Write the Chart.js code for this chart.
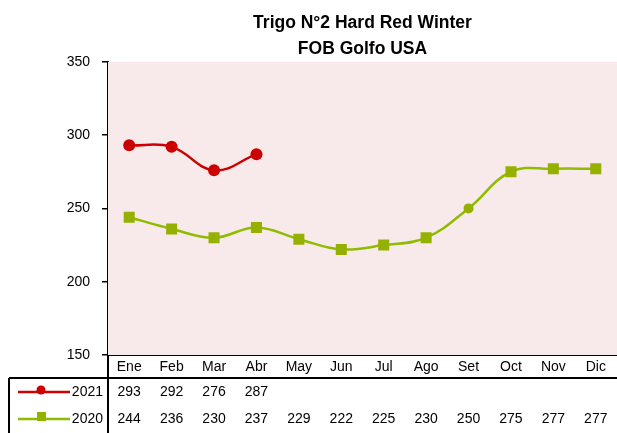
<!DOCTYPE html>
<html>
<head>
<meta charset="utf-8">
<script src="https://cdn.jsdelivr.net/npm/chart.js@4"></script>
<style>
  html, body { margin: 0; padding: 0; background: #fff; overflow: hidden; }
  canvas { display: block; }
</style>
</head>
<body>
<canvas id="line_chart" width="617" height="433"></canvas>
<script>
const months = ["Ene", "Feb", "Mar", "Abr", "May", "Jun", "Jul", "Ago", "Set", "Oct", "Nov", "Dic"];
const series2021 = [293, 292, 276, 287, null, null, null, null, null, null, null, null];
const series2020 = [244, 236, 230, 237, 229, 222, 225, 230, 250, 275, 277, 277];
const yTicks = [150, 200, 250, 300, 350];
const titleLines = ["Trigo N°2 Hard Red Winter", "FOB Golfo USA"];

const ctx = document.querySelector('#line_chart')
const FONT = "'Liberation Sans Narrow', 'Liberation Sans', Arial, sans-serif"
const red = '#CC0000'
const greenLine = '#8FBC00'
const greenMark = '#96B000'

Chart.defaults.font.family = FONT
Chart.defaults.color = '#000'

// pink plot background + data table under the x axis
const tablePlugin = {
    id: 'tablePlugin',
    beforeDatasetsDraw(chart) {
        const { ctx, chartArea: a } = chart
        ctx.save()
        ctx.fillStyle = '#F8EAEA'
        ctx.fillRect(a.left, a.top, a.right - a.left, a.bottom - a.top)
        ctx.restore()
    },
    afterDraw(chart) {
        const { ctx, chartArea: a, scales: { x } } = chart
        const tableTop = 378
        const rowY = [392, 419]
        ctx.save()
        ctx.strokeStyle = '#000'
        ctx.lineWidth = 2
        ctx.beginPath()
        ctx.moveTo(a.left, a.bottom)
        ctx.lineTo(a.left, chart.height)
        ctx.moveTo(9, tableTop)
        ctx.lineTo(chart.width, tableTop)
        ctx.moveTo(9, tableTop)
        ctx.lineTo(9, chart.height)
        ctx.stroke()

        ctx.font = '14px ' + FONT
        ctx.textBaseline = 'middle'
        chart.data.datasets.forEach((ds, i) => {
            const y = rowY[i]
            // legend key
            ctx.strokeStyle = ds.borderColor
            ctx.lineWidth = 2.5
            ctx.beginPath()
            ctx.moveTo(18, y)
            ctx.lineTo(70, y)
            ctx.stroke()
            ctx.fillStyle = ds.pointBackgroundColor
            if (i === 0) {
                ctx.beginPath()
                ctx.arc(41, y - 2, 4.5, 0, Math.PI * 2)
                ctx.fill()
            } else {
                ctx.fillRect(37, y - 7, 9, 9)
            }
            ctx.fillStyle = '#000'
            ctx.textAlign = 'right'
            ctx.fillText(ds.label, 103, y)
            // values
            ctx.textAlign = 'center'
            ds.data.forEach((v, j) => {
                if (v === null) return
                ctx.fillText(String(v), x.getPixelForValue(j), y)
            })
        })
        ctx.restore()
    }
}

new Chart(ctx, {
    type: 'line',
    data: {
        labels: months,
        datasets: [
            {
                label: '2021',
                data: series2021,
                borderColor: red,
                backgroundColor: red,
                borderWidth: 2.5,
                tension: 0.4,
                pointStyle: 'circle',
                pointRadius: 6,
                pointBorderWidth: 0,
                pointBackgroundColor: red
            },
            {
                label: '2020',
                data: series2020,
                borderColor: greenLine,
                backgroundColor: greenMark,
                borderWidth: 2.5,
                tension: 0.4,
                pointStyle: months.map(m => m === 'Set' ? 'circle' : 'rect'),
                pointRadius: months.map(m => m === 'Set' ? 5 : 7.8),
                pointBorderWidth: 0,
                pointBackgroundColor: greenMark
            }
        ]
    },
    options: {
        responsive: false,
        animation: false,
        layout: { padding: 0, autoPadding: false },
        plugins: {
            legend: false,
            tooltip: { enabled: false },
            title: {
                display: true,
                text: titleLines,
                fullSize: false,
                color: '#000',
                font: { size: 17.5, weight: 'bold', lineHeight: 1.48 },
                padding: { top: 10, bottom: 0 }
            }
        },
        scales: {
            x: {
                offset: true,
                grid: { display: false, drawTicks: false },
                border: { display: true, color: '#000', width: 2 },
                ticks: { padding: 4, font: { size: 14 }, color: '#000', maxRotation: 0 },
                afterFit(scale) { scale.height = 78 }
            },
            y: {
                min: yTicks[0],
                max: yTicks[yTicks.length - 1],
                afterBuildTicks(scale) { scale.ticks = yTicks.map(v => ({ value: v })) },
                grid: { display: true, drawOnChartArea: false, drawTicks: true, tickLength: 6, color: '#000', lineWidth: 1.5 },
                border: { display: true, color: '#000', width: 2 },
                ticks: { padding: 12, font: { size: 14 }, color: '#000' },
                afterFit(scale) { scale.width = 108 }
            }
        }
    },
    plugins: [tablePlugin]
})
</script>
</body>
</html>
